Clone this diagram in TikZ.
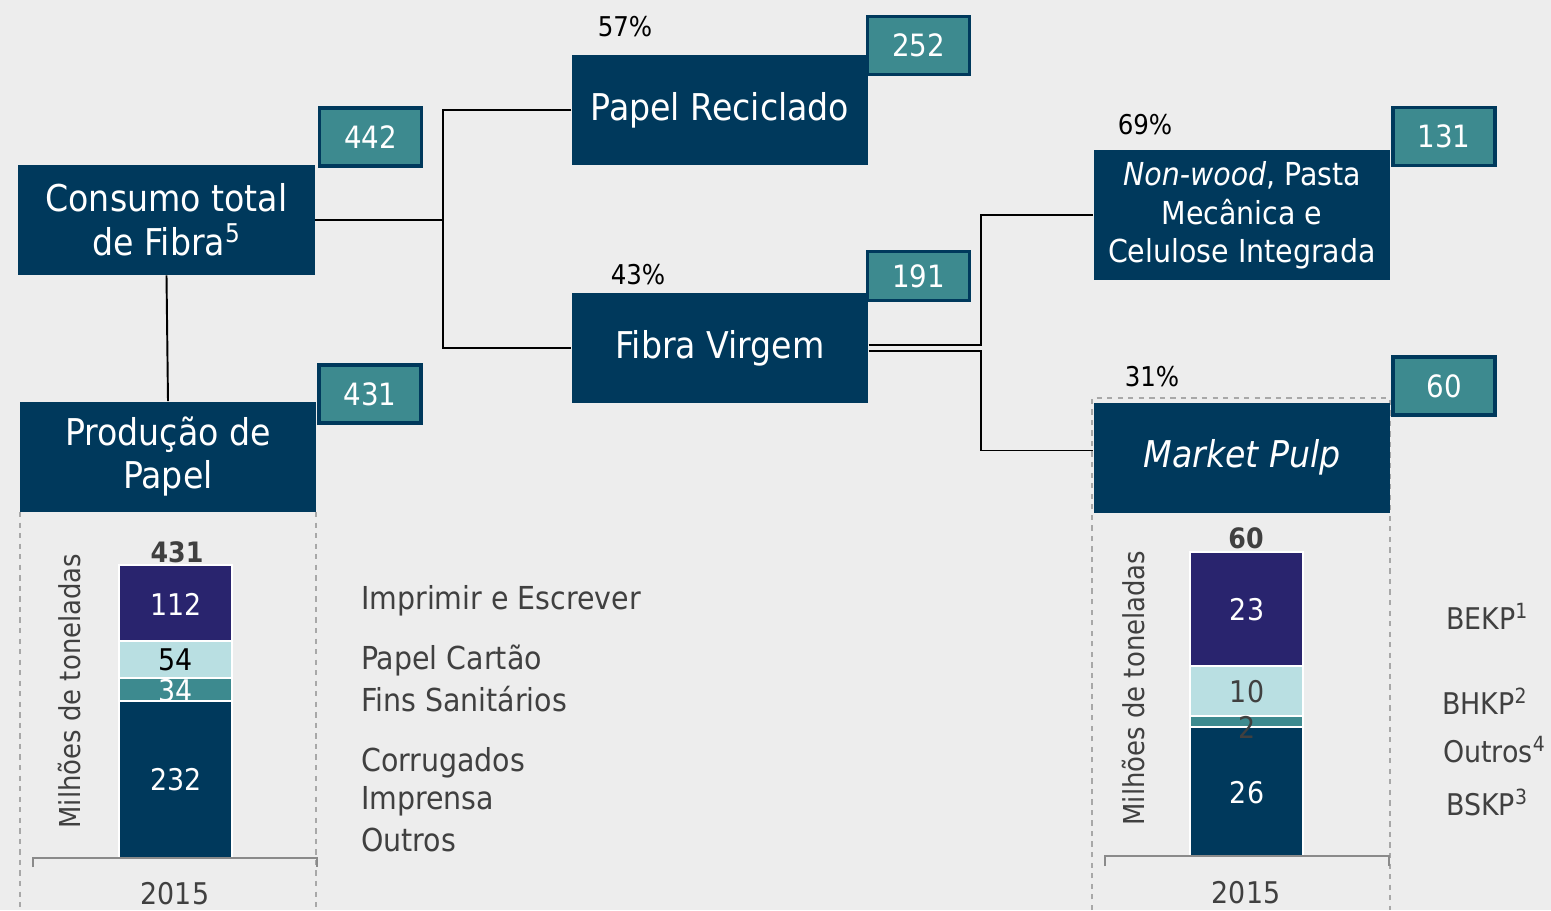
\documentclass[tikz,border=0pt]{standalone}
\usepackage{fontspec}
\setmainfont{DejaVu Sans Condensed}
\usepackage{tikz}
\usetikzlibrary{positioning, calc}

\definecolor{navyblue}{HTML}{00395C}
\definecolor{tealbox}{HTML}{3D8A8F}
\definecolor{purplebar}{HTML}{29246E}
\definecolor{lightbar}{HTML}{B9DFE2}
\definecolor{bggray}{HTML}{EDEDED}
\definecolor{textgray}{HTML}{404040}
\definecolor{dashgray}{HTML}{A8A8A8}
\definecolor{axisgray}{HTML}{8A8A8A}

\begin{document}
\begin{tikzpicture}[
        x=0.02cm, y=-0.02cm,
        mainbox/.style={fill=navyblue, text=white, inner sep=0pt, minimum width=5.93cm, minimum height=2.2cm, align=center, font=\fontsize{21}{25}\selectfont},
        badge/.style={fill=tealbox, draw=navyblue, line width=2.1pt, text=white, inner sep=0pt, minimum width=2.04cm, minimum height=1.16cm, font=\fontsize{17.5}{20}\selectfont},
        pct_label/.style={text=black, font=\fontsize{15.5}{18}\selectfont},
        link/.style={draw=black, line width=1.1pt},
        frame_line/.style={draw=dashgray, dashed, line width=1pt},
        axis_line/.style={draw=axisgray, line width=1.1pt},
        seg/.style={draw=white, line width=1.4pt},
        seg_label/.style={font=\fontsize{17}{20}\selectfont},
        legend_label/.style={text=textgray, anchor=west, font=\fontsize{18}{21}\selectfont},
        gray_label/.style={text=textgray, font=\fontsize{17}{20}\selectfont}
    ]
    % background
    \fill[bggray] (0,0) rectangle (1551,910);
    \useasboundingbox (0,0) rectangle (1551,910);

    % dashed frames round the two charts
    \draw[frame_line] (20,512) -- (20,910);
    \draw[frame_line] (316,512) -- (316,910);
    \draw[frame_line] (1092,910) -- (1092,398) -- (1390,398) -- (1390,910);

    % flow boxes
    \node[mainbox] (consumo_total) at (166.5,220) {Consumo total\\de Fibra\textsuperscript{5}};
    \node[mainbox] (papel_reciclado) at (720,110) {Papel Reciclado};
    \node[mainbox] (fibra_virgem) at (720,348) {Fibra Virgem};
    \node[mainbox, minimum height=2.6cm, text depth=0.12cm, font=\fontsize{18}{21.8}\selectfont] (non_wood) at (1242,215) {\textit{Non-wood}, Pasta\\Mecânica e\\Celulose Integrada};
    \node[mainbox] (market_pulp) at (1242,457.5) {\textit{Market Pulp}};
    \node[mainbox] (producao_papel) at (168,456.5) {Produção de\\Papel};

    % value badges
    \node[badge] (badge_consumo) at (370.5,137) {442};
    \node[badge] (badge_reciclado) at (918.5,45.5) {252};
    \node[badge, minimum height=0.98cm] (badge_virgem) at (918.5,276) {191};
    \node[badge] (badge_non_wood) at (1444,136.5) {131};
    \node[badge] (badge_market) at (1444,386) {60};
    \node[badge] (badge_producao) at (370,394) {431};

    % shares
    \node[pct_label] (pct_reciclado) at (625,27) {57\%};
    \node[pct_label] (pct_virgem) at (638,275) {43\%};
    \node[pct_label] (pct_non_wood) at (1145,125) {69\%};
    \node[pct_label] (pct_market) at (1152,377) {31\%};

    % connectors
    \coordinate (fork_a) at (443,220);
    \coordinate (fork_b) at (981,300);
    \coordinate (fork_c) at (981,400);
    \draw[link] (consumo_total.east) -- (fork_a);
    \draw[link] (papel_reciclado.west) -| (fork_a) |- (fibra_virgem.west);
    \draw[link] (consumo_total.south) -- (producao_papel.north);
    \draw[link] ([yshift=1.7pt]fibra_virgem.east) -| (fork_b) |- (non_wood.west);
    \draw[link] ([yshift=-1.7pt]fibra_virgem.east) -| (fork_c) |- ([yshift=4pt]market_pulp.west);

    % paper production bar
    \filldraw[seg, fill=purplebar] (119,565) rectangle (232,641);
    \filldraw[seg, fill=lightbar] (119,641) rectangle (232,678);
    \filldraw[seg, fill=tealbox] (119,678) rectangle (232,701);
    \filldraw[seg, fill=navyblue] (119,701) rectangle (232,858);
    \node[seg_label, text=white] (val_112) at (176,604) {112};
    \node[seg_label, text=black] (val_54) at (176,660) {54};
    \node[seg_label, text=white] (val_34) at (176,691) {34};
    \node[seg_label, text=white] (val_232) at (176,780) {232};
    \node[gray_label, font=\fontsize{16}{18}\selectfont\bfseries] (total_431) at (177,552) {431};
    \draw[axis_line] (33,867) -- (33,858) -- (317,858) -- (317,867);
    \node[gray_label] (year_left) at (175,894) {2015};
    \node[gray_label, rotate=90, font=\fontsize{16.4}{19}\selectfont] (unit_left) at (70,691) {Milhões de toneladas};

    % paper grades
    \node[legend_label] (leg_imprimir) at (355,601) {Imprimir e Escrever};
    \node[legend_label] (leg_cartao) at (355,660) {Papel Cartão};
    \node[legend_label] (leg_sanitarios) at (355,699) {Fins Sanitários};
    \node[legend_label] (leg_corrugados) at (355,763) {Corrugados};
    \node[legend_label] (leg_imprensa) at (355,801) {Imprensa};
    \node[legend_label] (leg_outros) at (355,840) {Outros};

    % market pulp bar
    \filldraw[seg, fill=purplebar] (1190,552) rectangle (1303,666);
    \filldraw[seg, fill=lightbar] (1190,666) rectangle (1303,716);
    \filldraw[seg, fill=tealbox] (1190,716) rectangle (1303,727);
    \filldraw[seg, fill=navyblue] (1190,727) rectangle (1303,856);
    \node[seg_label, text=white] (val_23) at (1247,610) {23};
    \node[seg_label, text=textgray] (val_10) at (1247,692) {10};
    \node[seg_label, text=textgray] (val_2) at (1247,727) {2};
    \node[seg_label, text=white] (val_26) at (1247,793) {26};
    \node[gray_label, font=\fontsize{16}{18}\selectfont\bfseries] (total_60) at (1246,538) {60};
    \draw[axis_line] (1105,866) -- (1105,856) -- (1389,856) -- (1389,866);
    \node[gray_label] (year_right) at (1246,893) {2015};
    \node[gray_label, rotate=90, font=\fontsize{16.4}{19}\selectfont] (unit_right) at (1133,688) {Milhões de toneladas};

    % pulp grades
    \node[legend_label, font=\fontsize{17}{20}\selectfont] (leg_bekp) at (1440,616) {BEKP\textsuperscript{1}};
    \node[legend_label, font=\fontsize{17}{20}\selectfont] (leg_bhkp) at (1436,701) {BHKP\textsuperscript{2}};
    \node[legend_label, font=\fontsize{17}{20}\selectfont] (leg_outros4) at (1437,750) {Outros\textsuperscript{4}};
    \node[legend_label, font=\fontsize{17}{20}\selectfont] (leg_bskp) at (1440,802) {BSKP\textsuperscript{3}};
\end{tikzpicture}
\end{document}
